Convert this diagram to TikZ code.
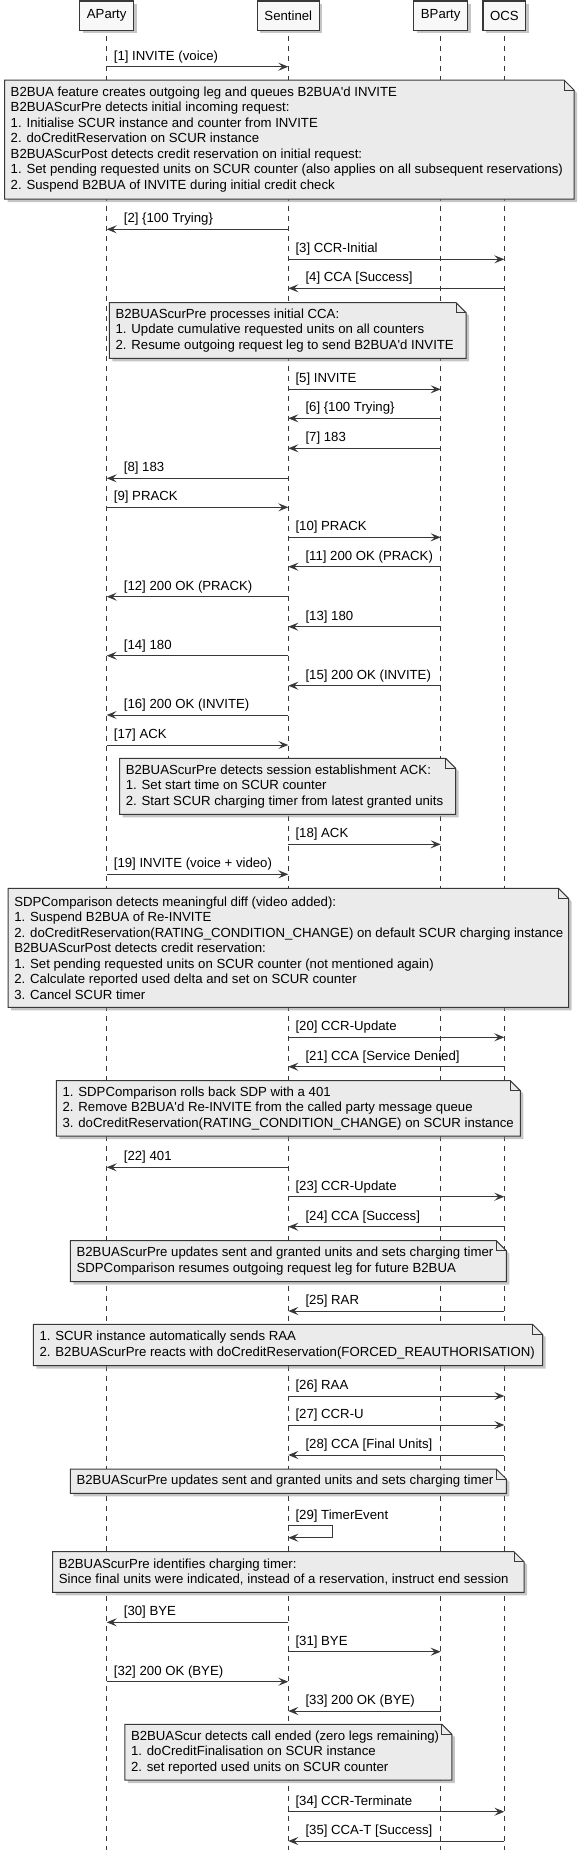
\documentclass[tikz,border=0pt]{standalone}
\usepackage{fontspec}
\setmainfont{Liberation Sans}
\usetikzlibrary{calc,arrows.meta,shadows}
\definecolor{umlline}{HTML}{383838}
\definecolor{notegray}{HTML}{EBEBEB}
\definecolor{headgray}{HTML}{F8F8F8}
\def\umlfont{\fontsize{13.2}{15.5}\selectfont}
\def\q{\textquotesingle}
\def\msgright(#1)(#2:#3:#4)#5{\draw[msg] (#2 |- 0,#4) -- (#3 |- 0,#4); \node[lbl] (#1) at ($(#2 |- 0,#4)+(7,-6.5)$) {#5};}
\def\msgleft(#1)(#2:#3:#4)#5{\draw[msg] (#2 |- 0,#4) -- (#3 |- 0,#4); \node[lbl] (#1) at ($(#3 |- 0,#4)+(17,-6.5)$) {#5};}
\def\drawnote(#1)(#2:#3:#4:#5)#6{%
	\draw[notebox] (#2,#3) -- (#4-10,#3) -- (#4,#3+10) -- (#4,#5) -- (#2,#5) -- cycle;
	\draw[notefold] (#4-10,#3) -- (#4-10,#3+10) -- (#4,#3+10);
	\node[notetext] (#1) at (#2+6,{(#3+#5)/2}) {#6};}
\tikzset{
	head/.style={draw=umlline, line width=1.1pt, fill=headgray, inner xsep=7pt, inner ysep=0pt, minimum height=29.5pt, font=\umlfont, drop shadow={shadow xshift=3pt, shadow yshift=-3pt, fill=black!45}},
	lifeline/.style={umlline, line width=0.8pt, dash pattern=on 5pt off 5pt},
	msg/.style={umlline, line width=1pt, -{Stealth[length=10pt,width=8pt,inset=4pt]}},
	lbl/.style={anchor=base west, inner sep=0pt, font=\umlfont},
	notebox/.style={draw=umlline, line width=1pt, fill=notegray, drop shadow={shadow xshift=3pt, shadow yshift=-3pt, fill=black!45}},
	notefold/.style={umlline, line width=1pt},
	notetext/.style={anchor=west, align=left, inner sep=0pt, font=\umlfont}
}
\begin{document}
\begin{tikzpicture}[x=1pt, y=-1pt]
			%%%%% START %%%%%
			\useasboundingbox (0,0) rectangle (579,1850);
			
			\coordinate (pA) at (106.7,15.7);
			\coordinate (pS) at (288.3,15.7);
			\coordinate (pB) at (440.7,15.7);
			\coordinate (pO) at (504.3,15.7);
			
			\draw[lifeline] (pA) -- (pA |- 0,1850);
			\draw[lifeline] (pS) -- (pS |- 0,1850);
			\draw[lifeline] (pB) -- (pB |- 0,1850);
			\draw[lifeline] (pO) -- (pO |- 0,1850);
			
			\node[head] (hA) at (pA) {AParty};
			\node[head] (hS) at (pS) {Sentinel};
			\node[head] (hB) at (pB) {BParty};
			\node[head] (hO) at (pO) {OCS};
			
			\msgright(m1)(pA:pS:66.7){[1] INVITE (voice)}
			
			\drawnote(n1)(4.5:80:574:199){B2BUA feature creates outgoing leg and queues B2BUA\q d INVITE\\
				B2BUAScurPre detects initial incoming request:\\
				1. Initialise SCUR instance and counter from INVITE\\
				2. doCreditReservation on SCUR instance\\
				B2BUAScurPost detects credit reservation on initial request:\\
				1. Set pending requested units on SCUR counter (also applies on all subsequent reservations)\\
				2. Suspend B2BUA of INVITE during initial credit check}
			
			\msgleft(m2)(pS:pA:229.3){[2] \{100 Trying\}}
			\msgright(m3)(pS:pO:259.3){[3] CCR-Initial}
			\msgleft(m4)(pO:pS:288.3){[4] CCA [Success]}
			
			\drawnote(n2)(109.3:302.7:466:358.3){B2BUAScurPre processes initial CCA:\\
				1. Update cumulative requested units on all counters\\
				2. Resume outgoing request leg to send B2BUA\q d INVITE}
			
			\msgright(m5)(pS:pB:389.3){[5] INVITE}
			\msgleft(m6)(pB:pS:418.3){[6] \{100 Trying\}}
			\msgleft(m7)(pB:pS:448.3){[7] 183}
			\msgleft(m8)(pS:pA:478.3){[8] 183}
			\msgright(m9)(pA:pS:507.3){[9] PRACK}
			\msgright(m10)(pS:pB:537.3){[10] PRACK}
			\msgleft(m11)(pB:pS:566.7){[11] 200 OK (PRACK)}
			\msgleft(m12)(pS:pA:596.7){[12] 200 OK (PRACK)}
			\msgleft(m13)(pB:pS:626.7){[13] 180}
			\msgleft(m14)(pS:pA:655.7){[14] 180}
			\msgleft(m15)(pB:pS:685.7){[15] 200 OK (INVITE)}
			\msgleft(m16)(pS:pA:715){[16] 200 OK (INVITE)}
			\msgright(m17)(pA:pS:745){[17] ACK}
			
			\drawnote(n3)(119.6:758.3:455.6:814.3){B2BUAScurPre detects session establishment ACK:\\
				1. Set start time on SCUR counter\\
				2. Start SCUR charging timer from latest granted units}
			
			\msgright(m18)(pS:pB:844.3){[18] ACK}
			\msgright(m19)(pA:pS:874.3){[19] INVITE (voice + video)}
			
			\drawnote(n4)(8.1:888.3:568.5:1007.3){SDPComparison detects meaningful diff (video added):\\
				1. Suspend B2BUA of Re-INVITE\\
				2. doCreditReservation(RATING\_CONDITION\_CHANGE) on default SCUR charging instance\\
				B2BUAScurPost detects credit reservation:\\
				1. Set pending requested units on SCUR counter (not mentioned again)\\
				2. Calculate reported used delta and set on SCUR counter\\
				3. Cancel SCUR timer}
			
			\msgright(m20)(pS:pO:1037.3){[20] CCR-Update}
			\msgleft(m21)(pO:pS:1066.7){[21] CCA [Service Denied]}
			
			\drawnote(n5)(56.3:1080.7:520.4:1136){1. SDPComparison rolls back SDP with a 401\\
				2. Remove B2BUA\q d Re-INVITE from the called party message queue\\
				3. doCreditReservation(RATING\_CONDITION\_CHANGE) on SCUR instance}
			
			\msgleft(m22)(pS:pA:1167.3){[22] 401}
			\msgright(m23)(pS:pO:1196.7){[23] CCR-Update}
			\msgleft(m24)(pO:pS:1226.7){[24] CCA [Success]}
			
			\drawnote(n6)(70.4:1240.7:506.3:1281.7){B2BUAScurPre updates sent and granted units and sets charging timer\\
				SDPComparison resumes outgoing request leg for future B2BUA}
			
			\msgleft(m25)(pO:pS:1311){[25] RAR}
			
			\drawnote(n7)(33.3:1324.3:542.6:1365.7){1. SCUR instance automatically sends RAA\\
				2. B2BUAScurPre reacts with doCreditReservation(FORCED\_REAUTHORISATION)}
			
			\msgright(m26)(pS:pO:1396){[26] RAA}
			\msgright(m27)(pS:pO:1425){[27] CCR-U}
			\msgleft(m28)(pO:pS:1455){[28] CCA [Final Units]}
			
			\drawnote(n8)(70.4:1469:506.3:1493.3){B2BUAScurPre updates sent and granted units and sets charging timer}
			
			\draw[msg] (pS |- 0,1525.7) -- ++(43.7,0) -- ++(0,12) -- (pS |- 0,1537.7);
			\node[lbl] (m29) at ($(pS |- 0,1525.7)+(7,-6.5)$) {[29] TimerEvent};
			
			\drawnote(n9)(52.6:1551.7:524:1592.3){B2BUAScurPre identifies charging timer:\\
				Since final units were indicated, instead of a reservation, instruct end session}
			
			\msgleft(m30)(pS:pA:1622.3){[30] BYE}
			\msgright(m31)(pS:pB:1651.7){[31] BYE}
			\msgright(m32)(pA:pS:1681.7){[32] 200 OK (BYE)}
			\msgleft(m33)(pB:pS:1711){[33] 200 OK (BYE)}
			
			\drawnote(n10)(124.8:1724.3:451.9:1780){B2BUAScur detects call ended (zero legs remaining)\\
				1. doCreditFinalisation on SCUR instance\\
				2. set reported used units on SCUR counter}
			
			\msgright(m34)(pS:pO:1811.7){[34] CCR-Terminate}
			\msgleft(m35)(pO:pS:1841){[35] CCA-T [Success]}
			
			%%%%% END %%%%%
\end{tikzpicture}
\end{document}
